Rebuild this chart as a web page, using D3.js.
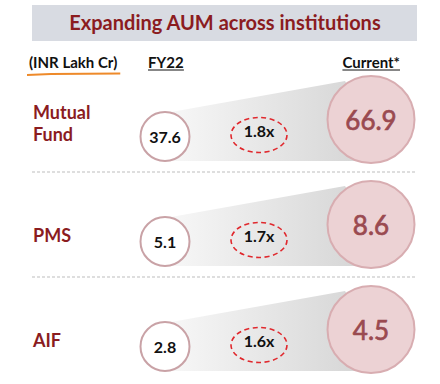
<!DOCTYPE html>
<html lang="en">
<head>
    <meta charset="UTF-8">
    <title>Expanding AUM across institutions</title>
    <style>
        body {
            margin: 0;
            background: #ffffff;
            font-family: Lato, "Open Sans", sans-serif;
        }
    </style>
</head>
<body>
    <div id="chart"></div>
    <script src="https://d3js.org/d3.v7.min.js"></script>
    <script>
        // Data
        const categories = ["Mutual Fund", "PMS", "AIF"];
        const fy22 = [37.6, 5.1, 2.8];
        const current = [66.9, 8.6, 4.5];
        const growth = ["1.8x", "1.7x", "1.6x"];
        const columns = ["label", "fy22", "growth", "current"];
        const headers = ["(INR Lakh Cr)", "FY22", "Current*"];

        const W = 440, H = 384;
        const svg = d3.select("#chart").append("svg")
            .attr("width", W)
            .attr("height", H);

        // Rows and columns
        const y = d3.scaleBand().domain(categories).range([67, 382]);
        const x = d3.scaleOrdinal().domain(columns).range([33, 165, 259, 371]);
        const rSmall = 24.5, rBig = 43.5;

        // gradient for the funnel
        const grad = svg.append("defs").append("linearGradient")
            .attr("id", "funnel")
            .attr("x1", "0%").attr("x2", "100%");
        grad.append("stop").attr("offset", "0%").attr("stop-color", "#f8f8f8");
        grad.append("stop").attr("offset", "100%").attr("stop-color", "#d4d4d4");

        // Title box
        svg.append("rect")
            .attr("x", 32).attr("y", 5)
            .attr("width", 385).attr("height", 36)
            .attr("fill", "#d8dbe2");
        svg.append("text")
            .attr("x", 225).attr("y", 30)
            .attr("text-anchor", "middle")
            .attr("font-size", 20)
            .attr("font-weight", "bold")
            .attr("fill", "#8b1c1f")
            .text("Expanding AUM across institutions");

        // Header row
        const hdr = [
            { t: headers[0], x: 29, anchor: "start" },
            { t: headers[1], x: x("fy22") - 17, anchor: "start" },
            { t: headers[2], x: 400, anchor: "end" }
        ];
        const hText = svg.append("g").selectAll("text")
            .data(hdr)
            .enter()
            .append("text")
            .attr("x", d => d.x)
            .attr("y", 68)
            .attr("text-anchor", d => d.anchor)
            .attr("font-size", 15)
            .attr("font-weight", "bold")
            .attr("fill", "#111")
            .text(d => d.t);

        hText.each(function(d, i) {
            const b = this.getBBox();
            if (i === 0) {
                svg.append("path")
                    .attr("d", `M${b.x - 2},75 L${b.x + 22},74 L${b.x + b.width + 3},73.5`)
                    .attr("fill", "none")
                    .attr("stroke", "#ee8a2a")
                    .attr("stroke-width", 2);
            } else {
                svg.append("line")
                    .attr("x1", b.x).attr("x2", b.x + b.width)
                    .attr("y1", 70).attr("y2", 70)
                    .attr("stroke", "#111")
                    .attr("stroke-width", 1);
            }
        });

        // Separators between rows
        svg.append("g").selectAll("line")
            .data(categories.slice(1))
            .enter()
            .append("line")
            .attr("x1", 32).attr("x2", 416)
            .attr("y1", d => y(d)).attr("y2", d => y(d))
            .attr("stroke", "#bdbdbd")
            .attr("stroke-dasharray", "3,2");

        const rows = svg.append("g").selectAll("g")
            .data(categories)
            .enter()
            .append("g")
            .attr("transform", d => `translate(0,${y(d) + y.bandwidth() / 2})`);

        // Funnel shape behind the circles
        rows.append("path")
            .attr("fill", "url(#funnel)")
            .attr("d", () => {
                const sx = x("fy22"), sy = 17;
                const bx = x("current");
                return `M${sx + 6},${sy - rSmall} L${bx - 26},${-rBig + 5} L${bx},${0} L${bx},${sy + rSmall} L${sx},${sy + rSmall} Z`;
            });

        // Row labels
        rows.append("text")
            .attr("x", x("label"))
            .attr("font-size", 18)
            .attr("font-weight", "bold")
            .attr("fill", "#8b1c1f")
            .each(function(d) {
                const words = d.split(" ");
                const t = d3.select(this);
                if (words.length > 1) {
                    words.forEach((w, i) => {
                        t.append("tspan").attr("x", x("label")).attr("y", -1 + i * 22).text(w);
                    });
                } else {
                    t.attr("y", 17.5).text(d);
                }
            });

        // FY22 circles
        rows.append("circle")
            .attr("cx", x("fy22")).attr("cy", 17)
            .attr("r", rSmall)
            .attr("fill", "#fff")
            .attr("stroke", "#c9a2a6")
            .attr("stroke-width", 2);
        rows.append("text")
            .attr("x", x("fy22")).attr("y", 23)
            .attr("text-anchor", "middle")
            .attr("font-size", 16)
            .attr("font-weight", "bold")
            .attr("fill", "#111")
            .text((d, i) => fy22[i]);

        // Growth ellipses
        rows.append("ellipse")
            .attr("cx", x("growth")).attr("cy", 15.5)
            .attr("rx", 28).attr("ry", 17.5)
            .attr("fill", "none")
            .attr("stroke", "#e0282d")
            .attr("stroke-width", 1.6)
            .attr("stroke-dasharray", "5,3.5");
        rows.append("text")
            .attr("x", x("growth")).attr("y", 17.5)
            .attr("text-anchor", "middle")
            .attr("font-size", 16)
            .attr("font-weight", "bold")
            .attr("fill", "#111")
            .text((d, i) => growth[i]);

        // Current circles
        rows.append("circle")
            .attr("cx", x("current")).attr("cy", 0)
            .attr("r", rBig)
            .attr("fill", "#ecd2d4")
            .attr("stroke", "#d8adb1")
            .attr("stroke-width", 2);
        rows.append("text")
            .attr("x", x("current")).attr("y", 10)
            .attr("text-anchor", "middle")
            .attr("font-size", 26)
            .attr("fill", "#9a4a50")
            .attr("stroke", "#9a4a50")
            .attr("stroke-width", 0.7)
            .text((d, i) => current[i]);
    </script>
</body>
</html>
